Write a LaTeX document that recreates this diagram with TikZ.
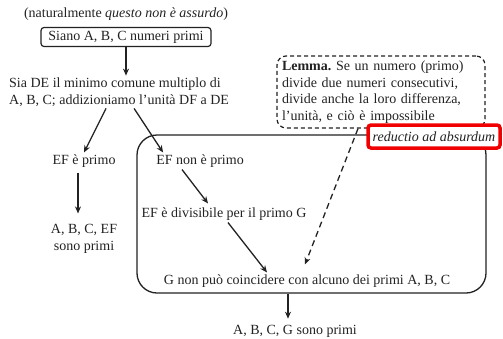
\documentclass[tikz,border=0pt]{standalone}
\usepackage{fontspec}
\setmainfont{Liberation Serif}
\usetikzlibrary{arrows.meta}
\definecolor{ink}{HTML}{222222}
\definecolor{alert}{HTML}{F00000}
\frenchspacing
\begin{document}
\begin{tikzpicture}[x=1pt,y=-1pt,
  every node/.style={font=\fontsize{14}{16.5}\selectfont, text=ink, inner sep=2pt},
  arr/.style={draw=ink, line width=1.3pt, -{Stealth[length=7pt,width=6pt]}},
  dasharr/.style={arr, dash pattern=on 6pt off 4pt},
  txt/.style={align=center},
  startbox/.style={draw=ink, line width=1.2pt, rounded corners=3pt, minimum width=170pt, minimum height=19pt, inner sep=0pt},
  lemmabox/.style={draw=ink, line width=1.2pt, dash pattern=on 4pt off 3pt, rounded corners=9pt,
    text width=198pt, inner xsep=5pt, minimum height=72pt, align=left},
  frame/.style={draw=ink, line width=1.3pt, rounded corners=20pt, minimum width=349pt, minimum height=158pt, inner sep=0pt},
  tag/.style={draw=alert, line width=3.5pt, rounded corners=3pt, fill=white, minimum width=132pt, minimum height=23pt, inner sep=1pt}]
\useasboundingbox (0,0) rectangle (503,338);

% top of the argument
\node (nat) [txt] at (126,14) {(naturalmente \textit{questo non è assurdo})};
\node (siano) [startbox] at (126,37) {Siano A, B, C numeri primi};
\node (sia) [anchor=west, align=left] at (7,92) {Sia DE il minimo comune multiplo di\\A, B, C; addizioniamo l’unità DF a DE};

% the two cases
\node (efp) [txt] at (84,161) {EF è primo};
\node (abcef) [txt] at (84,239) {A, B, C, EF\\sono primi};
\node (efnp) [txt] at (200,161) {EF non è primo};
\node (div) [txt] at (224,214) {EF è divisibile per il primo G};
\node (gnon) [txt] at (307,281) {G non può coincidere con alcuno dei primi A, B, C};
\node (abcg) [txt] at (295,331) {A, B, C, G sono primi};

% the lemma and the frame of the reductio
\node (lemma) [lemmabox] at (381,92) {\textbf{Lemma.} Se un numero (primo)\\divide due numeri consecutivi,\\divide anche la loro differenza,\\l’unità, e ciò è impossibile};
\node (frame) [frame] at (311.5,214) {};
\node (rad) [tag] at (434,136.5) {\textit{reductio ad absurdum}};

% connectors
\draw[arr] (siano.south) -- (siano.south |- sia.north);
\draw[arr] ([xshift=-13pt]sia.south) -- (efp.north);
\draw[arr] ([xshift=15pt]sia.south) -- ([xshift=9pt]efnp.north west);
\draw[arr] ([xshift=-6pt,yshift=-3pt]efp.south) -- ([xshift=-6pt,yshift=9pt]abcef.north);
\draw[arr] ([xshift=-18pt]efnp.south) -- ([xshift=-16pt,yshift=2pt]div.north);
\draw[arr] ([xshift=4pt]div.south) -- ([xshift=-40pt]gnon.north);
\draw[dasharr] ([xshift=-23pt]lemma.south) -- ([xshift=-2pt,yshift=8pt]gnon.north);
\draw[arr] ([xshift=-7pt]abcg.north |- frame.south) -- ([xshift=-7pt,yshift=4pt]abcg.north);
\end{tikzpicture}
\end{document}
